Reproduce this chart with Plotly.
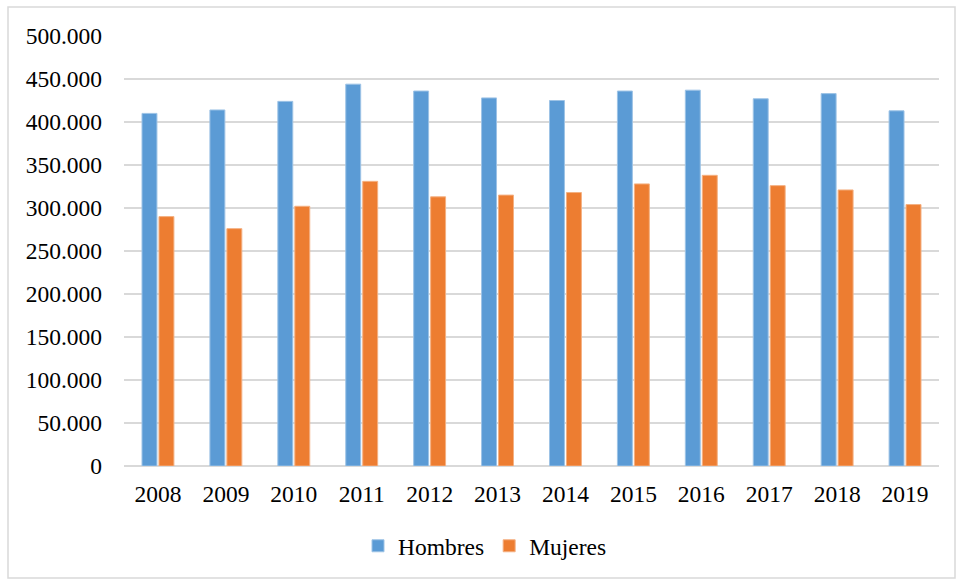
import plotly.graph_objects as go

years = ["2008", "2009", "2010", "2011", "2012", "2013", "2014", "2015", "2016", "2017", "2018", "2019"]
hombres = [410000, 414000, 424000, 444000, 436000, 428000, 425000, 436000, 437000, 427000, 433000, 413000]
mujeres = [290000, 276000, 302000, 331000, 313000, 315000, 318000, 328000, 338000, 326000, 321000, 304000]
y_ticks = [0, 50000, 100000, 150000, 200000, 250000, 300000, 350000, 400000, 450000, 500000]

W, H = 956, 580
L, R, T, B = 124, 17, 36, 114
pw, ph = W - L - R, H - T - B

def px(x):
    return (x - L) / pw

def py(y):
    return (H - B - y) / ph

FONT = "Liberation Serif"
FS = 23.5

fig = go.Figure()
fig.add_trace(go.Bar(x=years, y=hombres, name="Hombres",
                     marker=dict(color="#5B9BD5", line=dict(color="#9DC3E6", width=1))))
fig.add_trace(go.Bar(x=years, y=mujeres, name="Mujeres",
                     marker=dict(color="#ED7D31", line=dict(color="#F4B183", width=1))))

fig.update_layout(
    width=W, height=H,
    margin=dict(l=L, r=R, t=T, b=B),
    paper_bgcolor="white", plot_bgcolor="white",
    separators=",.",
    barmode="group", bargap=0.5, bargroupgap=0.12,
    font=dict(family=FONT, size=FS, color="#000000"),
    showlegend=True,
    legend=dict(orientation="h", x=px(358), xanchor="left", y=py(546), yanchor="middle",
                font=dict(family=FONT, size=FS), itemwidth=30, traceorder="normal"),
    xaxis=dict(showgrid=False, showline=False, ticks="", tickfont=dict(family=FONT, size=FS),
               ticklabelstandoff=11),
    yaxis=dict(range=[0, 500000], tickvals=y_ticks, tickformat=",.0f",
               showgrid=True, gridcolor="#D9D9D9", gridwidth=1.5,
               zeroline=True, zerolinecolor="#D9D9D9", zerolinewidth=1.5,
               showline=False, ticks="", ticklabelstandoff=21, tickfont=dict(family=FONT, size=FS)),
    shapes=[dict(type="rect", xref="paper", yref="paper",
                 x0=px(8), x1=px(955), y0=py(578), y1=py(7),
                 line=dict(color="#D9D9D9", width=1.5), fillcolor="rgba(0,0,0,0)", layer="below")],
)

fig.write_html("out.html")
